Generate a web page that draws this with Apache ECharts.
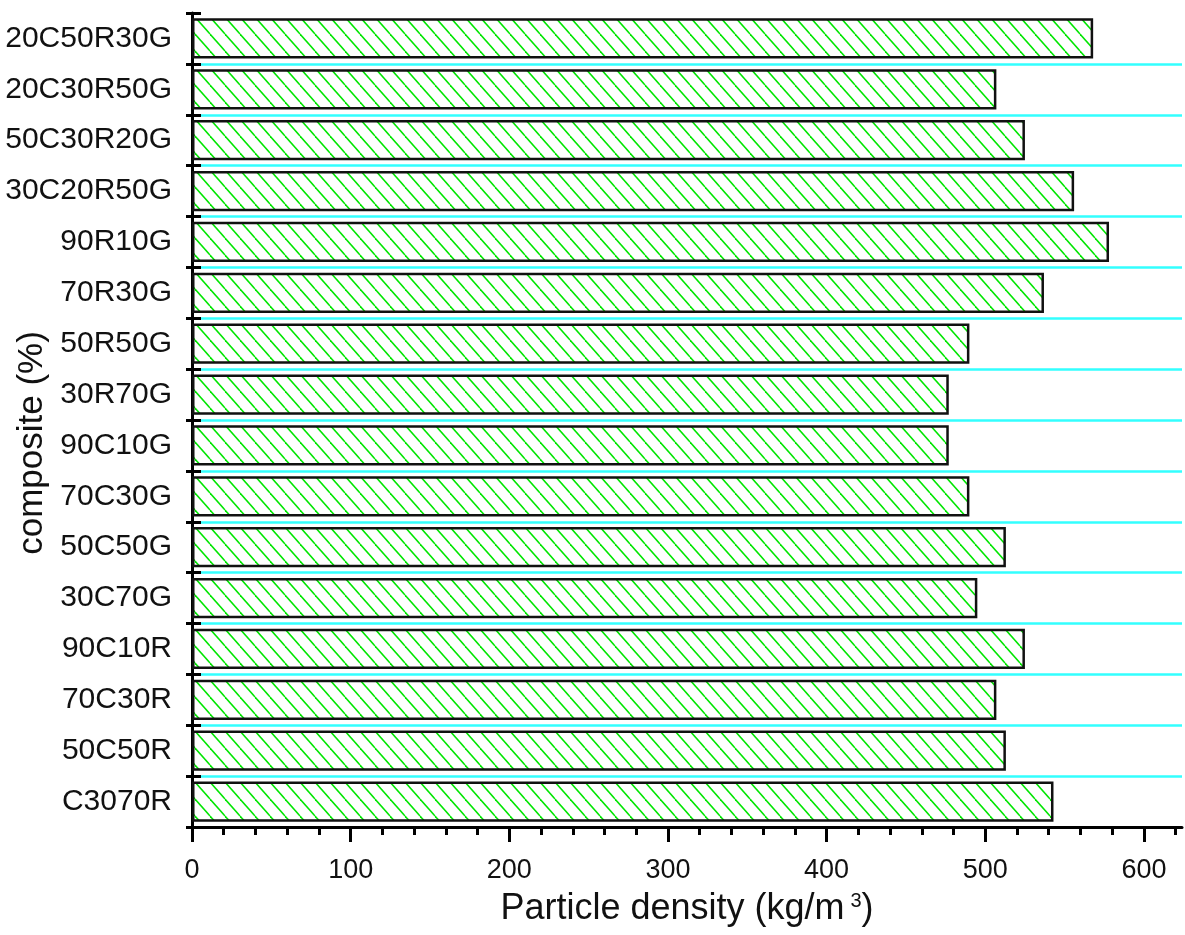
<!DOCTYPE html>
<html>
<head>
<meta charset="utf-8">
<script src="https://cdn.jsdelivr.net/npm/echarts@6/dist/echarts.min.js"></script>
<style>
html,body{margin:0;padding:0;background:#fff;}
#chart{width:1185px;height:935px;}
</style>
</head>
<body>
<div id="chart"></div>
<script>
// Categories listed top to bottom as in the picture
const categories = ['20C50R30G','20C30R50G','50C30R20G','30C20R50G','90R10G','70R30G','50R50G','30R70G','90C10G','70C30G','50C50G','30C70G','90C10R','70C30R','50C50R','C3070R'];
const densityValues = [568, 507, 525, 556, 578, 537, 490, 477, 477, 490, 513, 495, 525, 507, 513, 543];
const majorTicks = [0, 100, 200, 300, 400, 500, 600];
const minorTicks = [20, 40, 60, 80, 120, 140, 160, 180, 220, 240, 260, 280, 320, 340, 360, 380, 420, 440, 460, 480, 520, 540, 560, 580, 620];
const xTitle = 'Particle density (kg/m{sup|3})';
const yTitle = 'composite (%)';

// diagonal green hatch pattern
const tile = document.createElement('canvas');
const TW = 15, TH = 17;
tile.width = TW; tile.height = TH;
const c = tile.getContext('2d');
c.fillStyle = '#ffffff';
c.fillRect(0, 0, TW, TH);
c.strokeStyle = '#00e600';
c.lineWidth = 1.5;
[-TW, 0, TW].forEach(function (dx) {
  c.beginPath();
  c.moveTo(dx, 0);
  c.lineTo(dx + TW, TH);
  c.stroke();
});

const chart = echarts.init(document.getElementById('chart'), null, {renderer: 'canvas'});
const font = 'Liberation Sans, Arial, sans-serif';
chart.setOption({
  animation: false,
  backgroundColor: '#ffffff',
  grid: {left: 192, right: 3, top: 13, bottom: 108, containLabel: false, outerBoundsMode: 'none'},
  xAxis: [{
    type: 'value', min: 0, max: 624,
    axisLine: {show: true, lineStyle: {color: '#000', width: 3}},
    axisTick: {show: true, customValues: majorTicks, length: 15, lineStyle: {color: '#000', width: 3}},
    axisLabel: {customValues: majorTicks, margin: 30, fontFamily: font, fontSize: 27, color: '#111'},
    splitLine: {show: false},
    name: xTitle, nameLocation: 'middle', nameGap: 64, nameMoveOverlap: false,
    nameTextStyle: {fontFamily: font, fontSize: 36, color: '#111',
      rich: {sup: {fontFamily: font, fontSize: 20, color: '#111', verticalAlign: 'top', padding: [0, 0, 16, 6]}}}
  }, {
    type: 'value', min: 0, max: 624, position: 'bottom',
    axisLine: {show: false},
    axisTick: {show: true, customValues: minorTicks, length: 8, lineStyle: {color: '#000', width: 3}},
    axisLabel: {show: false},
    splitLine: {show: false}
  }],
  yAxis: [{
    type: 'category', data: categories, inverse: true, boundaryGap: true,
    axisLine: {show: true, lineStyle: {color: '#000', width: 3}},
    axisTick: {show: true, length: 6, lineStyle: {color: '#000', width: 3}},
    axisLabel: {margin: 20, fontFamily: font, fontSize: 30, color: '#111'},
    splitLine: {show: true, interval: function (i) { return i !== 0; }, lineStyle: {color: '#33ffff', width: 2.5}},
    name: yTitle, nameLocation: 'middle', nameGap: 142, nameMoveOverlap: false,
    nameTextStyle: {fontFamily: font, fontSize: 35, color: '#111', padding: [0, 46, 0, 0]}
  }, {
    type: 'category', data: categories, inverse: true, boundaryGap: true, position: 'left',
    axisLine: {show: false},
    axisTick: {show: true, inside: true, length: 9, lineStyle: {color: '#000', width: 3}},
    axisLabel: {show: false},
    splitLine: {show: false}
  }],
  series: [{
    type: 'bar', xAxisIndex: 0, yAxisIndex: 0,
    data: densityValues,
    barWidth: '79%',
    itemStyle: {color: {image: tile, repeat: 'repeat'}, borderColor: '#111', borderWidth: 2.5}
  }]
});
</script>
</body>
</html>
